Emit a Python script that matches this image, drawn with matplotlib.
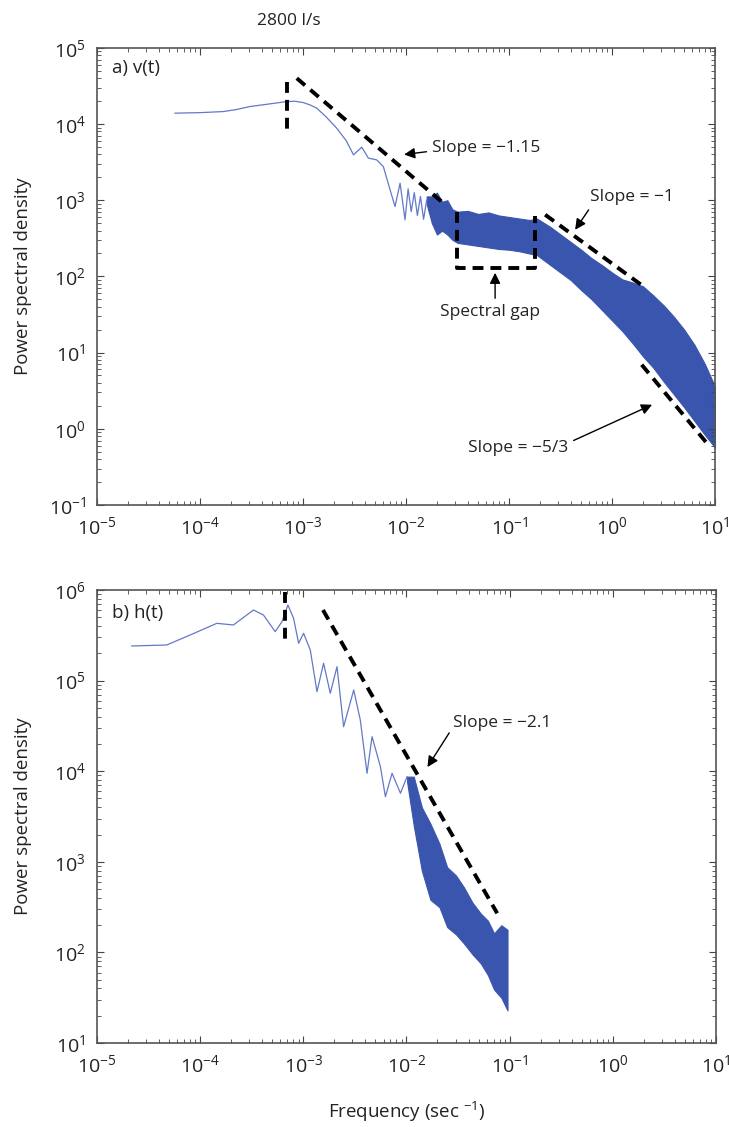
import matplotlib
matplotlib.use("Agg")
import matplotlib.pyplot as plt
from matplotlib.ticker import FixedLocator, NullFormatter
import numpy as np

plt.rcParams["font.family"] = ["Open Sans", "DejaVu Sans"]
plt.rcParams["mathtext.fontset"] = "custom"
plt.rcParams["mathtext.rm"] = "Open Sans"
plt.rcParams["mathtext.it"] = "Open Sans"

# panel a, v(t): thin part of the spectrum (log10 f, log10 PSD)
va_logf = [-4.243, -4.0, -3.774, -3.65, -3.515, -3.35, -3.159, -3.08, -2.997, -2.93,
           -2.867, -2.78, -2.673, -2.58, -2.51, -2.43, -2.366, -2.285, -2.22,
           -2.155, -2.107, -2.058, -2.01, -1.98, -1.95, -1.92, -1.89, -1.86, -1.83, -1.80]
va_logp = [4.143, 4.15, 4.164, 4.19, 4.23, 4.26, 4.295, 4.30, 4.282, 4.25,
           4.209, 4.10, 3.946, 3.78, 3.596, 3.697, 3.553, 3.53, 3.44,
           3.137, 2.917, 3.224, 2.743, 3.15, 2.85, 3.10, 2.80, 3.05, 2.75, 3.0]
# panel a: dense noisy band (upper / lower envelope)
vb_logf = [-1.80, -1.75, -1.70, -1.65, -1.60, -1.55, -1.50, -1.40, -1.30, -1.20,
           -1.10, -1.00, -0.90, -0.80, -0.73, -0.60, -0.50, -0.40, -0.30, -0.20,
           -0.10, 0.00, 0.10, 0.20, 0.30, 0.40, 0.50, 0.60, 0.70, 0.80, 0.90, 1.00]
vb_up = [3.05, 3.05, 3.10, 2.98, 3.00, 2.88, 2.85, 2.86, 2.82, 2.84,
         2.80, 2.78, 2.76, 2.74, 2.76, 2.65, 2.55, 2.45, 2.35, 2.24,
         2.15, 2.05, 1.96, 1.92, 1.87, 1.75, 1.62, 1.47, 1.30, 1.10, 0.85, 0.55]
vb_lo = [2.95, 2.70, 2.55, 2.60, 2.55, 2.48, 2.44, 2.42, 2.40, 2.38,
         2.36, 2.35, 2.33, 2.30, 2.28, 2.15, 2.05, 1.95, 1.82, 1.70,
         1.56, 1.42, 1.28, 1.12, 0.95, 0.80, 0.62, 0.45, 0.28, 0.10, -0.08, -0.25]

# panel b, h(t): thin part of the spectrum
ha_logf = [-4.663, -4.324, -4.097, -3.838, -3.677, -3.483, -3.386, -3.272, -3.207,
           -3.149, -3.094, -3.045, -2.997, -2.932, -2.867, -2.803, -2.738, -2.673,
           -2.609, -2.511, -2.447, -2.382, -2.333, -2.252, -2.204, -2.139, -2.058,
           -1.993]
ha_logp = [5.382, 5.393, 5.503, 5.632, 5.614, 5.779, 5.724, 5.54, 5.65,
           5.834, 5.688, 5.412, 5.522, 5.338, 4.878, 5.191, 4.86, 5.154,
           4.491, 4.896, 4.565, 3.977, 4.381, 4.05, 3.719, 3.977, 3.757,
           3.94]
# panel b: dense noisy band
hb_logf = [-1.993, -1.929, -1.85, -1.767, -1.68, -1.605, -1.52, -1.443, -1.36,
           -1.28, -1.21, -1.15, -1.08, -1.02]
hb_up = [3.94, 3.94, 3.60, 3.42, 3.20, 2.94, 2.85, 2.72, 2.55,
         2.43, 2.35, 2.21, 2.30, 2.25]
hb_lo = [3.88, 3.40, 2.90, 2.58, 2.50, 2.28, 2.20, 2.10, 1.98,
         1.88, 1.75, 1.59, 1.50, 1.36]

# reference lines (log10 f, log10 PSD)
a_slope115 = ([-3.061, -1.638], [4.602, 2.962])
a_vert = ([-3.152, -3.152], [4.558, 3.88])
a_gap = ([-1.502, -1.502, -0.748, -0.748], [2.852, 2.11, 2.11, 2.79])
a_slope1 = ([-0.65, 0.304], [2.81, 1.868])
a_slope53 = ([0.287, 0.918], [0.84, -0.187])
b_vert = ([-3.18, -3.18], [5.98, 5.43])
b_slope21 = ([-2.809, -1.12], [5.779, 2.432])

LINE = "#6478c8"
BAND = "#3a55ad"
DASH = dict(color="black", lw=2.8, linestyle=(0, (2.8, 1.8)))
TXT = 12.5


def p10(v):
    return 10 ** np.asarray(v, dtype=float)


def style(ax, ylo, yhi):
    ax.set_xscale("log")
    ax.set_yscale("log")
    ax.set_xlim(1e-5, 10)
    ax.set_ylim(10.0 ** ylo, 10.0 ** yhi)
    ax.xaxis.set_major_locator(FixedLocator(p10(range(-5, 2))))
    ax.yaxis.set_major_locator(FixedLocator(p10(range(ylo, yhi + 1))))
    ax.xaxis.set_minor_locator(FixedLocator([m * 10.0 ** e for e in range(-5, 1) for m in range(2, 10)]))
    ax.yaxis.set_minor_locator(FixedLocator([m * 10.0 ** e for e in range(ylo, yhi) for m in range(2, 10)]))
    ax.xaxis.set_minor_formatter(NullFormatter())
    ax.yaxis.set_minor_formatter(NullFormatter())
    ax.tick_params(which="both", direction="in", top=True, right=True, colors="#444444",
                   labelcolor="#222222", labelsize=14)
    ax.tick_params(which="major", length=5, pad=8)
    ax.tick_params(which="minor", length=3)
    for s in ax.spines.values():
        s.set_color("#555555")
        s.set_linewidth(1.2)
    ax.set_ylabel("Power spectral density", fontsize=13.5, color="#222222")
    ax.yaxis.set_label_coords(-0.105, 0.5)


def note(ax, text, txy, tip, ha="left", relpos=(0.0, 0.5)):
    ax.annotate(text, xy=p10(tip), xytext=p10(txy), ha=ha, va="center",
                fontsize=TXT, color="#222222",
                arrowprops=dict(arrowstyle="-|>", color="black", lw=1.0,
                                mutation_scale=16, relpos=relpos, shrinkA=2, shrinkB=0))


fig = plt.figure(figsize=(7.29, 11.27), dpi=100)
ax1 = fig.add_axes([0.133, 0.552, 0.848, 0.4055])
ax2 = fig.add_axes([0.133, 0.0745, 0.849, 0.402])

# panel a
ax1.plot(p10(va_logf), p10(va_logp), color=LINE, lw=0.9)
ax1.fill_between(p10(vb_logf), p10(vb_lo), p10(vb_up), color=BAND, lw=0.8, edgecolor=BAND)
for xs, ys in (a_slope115, a_vert, a_gap, a_slope1, a_slope53):
    ax1.plot(p10(xs), p10(ys), **DASH)
style(ax1, -1, 5)
ax1.text(0.024, 0.956, "a) v(t)", transform=ax1.transAxes, fontsize=13.5,
         va="center", ha="left", color="#222222")
note(ax1, "Slope = \u22121.15", (-1.748, 3.688), (-2.019, 3.60), relpos=(0.0, 0.3))
note(ax1, "Slope = \u22121", (-0.214, 3.045), (-0.359, 2.612), relpos=(0.05, 0.2))
note(ax1, "Spectral gap", (-1.184, 1.535), (-1.136, 2.047), ha="center", relpos=(0.55, 1.0))
note(ax1, "Slope = \u22125/3", (-1.398, -0.249), (0.388, 0.315), relpos=(1.0, 0.8))

# panel b
ax2.plot(p10(ha_logf), p10(ha_logp), color=LINE, lw=0.9)
ax2.fill_between(p10(hb_logf), p10(hb_lo), p10(hb_up), color=BAND, lw=0.8, edgecolor=BAND)
for xs, ys in (b_vert, b_slope21):
    ax2.plot(p10(xs), p10(ys), **DASH)
style(ax2, 1, 6)
ax2.text(0.024, 0.949, "b) h(t)", transform=ax2.transAxes, fontsize=13.5,
         va="center", ha="left", color="#222222")
note(ax2, "Slope = \u22122.1", (-1.544, 4.532), (-1.796, 4.046), relpos=(0.0, 0.3))
ax2.set_xlabel("Frequency (sec $^{-1}$)", fontsize=13.5, color="#222222")
ax2.xaxis.set_label_coords(0.5, -0.126)

fig.text(289 / 729, 1 - 21 / 1127, "2800 l/s", ha="center", va="center",
         fontsize=12.5, color="#222222")

fig.savefig("out.png", dpi=100)
